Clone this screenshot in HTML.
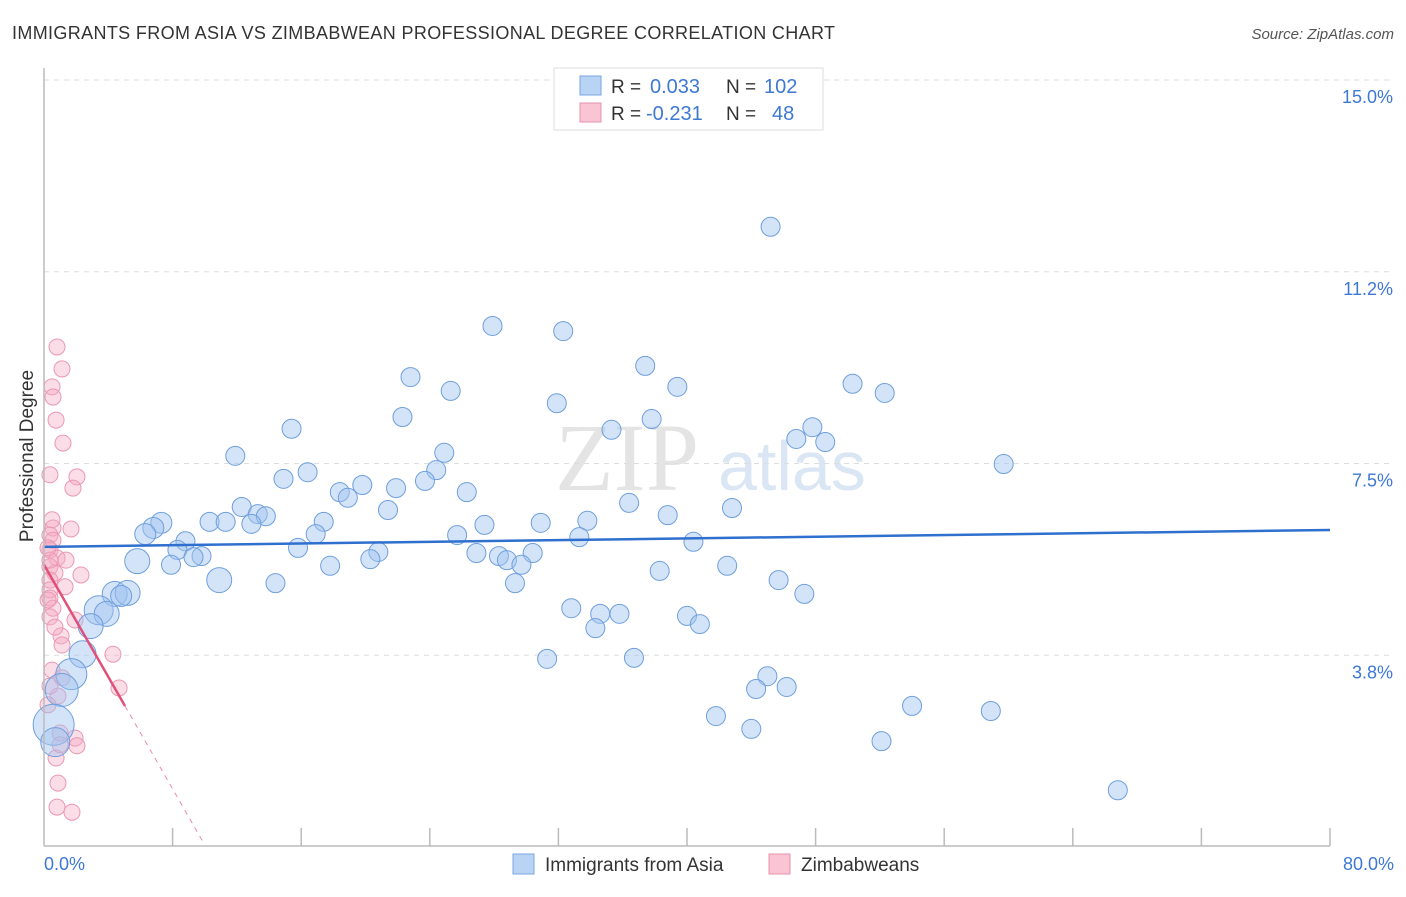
<!DOCTYPE html>
<html><head><meta charset="utf-8"><style>
body{margin:0;background:#fff;font-family:"Liberation Sans",sans-serif;}
</style></head><body>
<svg id="chart" width="1406" height="892" xmlns="http://www.w3.org/2000/svg" font-family="Liberation Sans, sans-serif">
<text x="12" y="39" font-size="18" fill="#333" textLength="823" lengthAdjust="spacing">IMMIGRANTS FROM ASIA VS ZIMBABWEAN PROFESSIONAL DEGREE CORRELATION CHART</text>
<text x="1394" y="39" font-size="15" fill="#555" font-style="italic" text-anchor="end">Source: ZipAtlas.com</text>
<text transform="translate(33,456) rotate(-90)" font-size="19" fill="#333" text-anchor="middle">Professional Degree</text>
<text x="555" y="490" font-size="96" fill="#e4e4e4" font-family="Liberation Serif, serif">ZIP</text>
<text x="718" y="490" font-size="70" fill="#dbe6f5">atlas</text>
<g id="grid"></g>
<g id="pinkPts"></g>
<g id="bluePts"></g>
<g id="trends"></g>
<line x1="44" y1="68" x2="44" y2="846" stroke="#bbb" stroke-width="1.5"/>
<line x1="44" y1="846" x2="1330" y2="846" stroke="#bbb" stroke-width="1.5"/>
<text x="44" y="870" font-size="18" fill="#3d78d4">0.0%</text>
<text x="1394" y="870" font-size="18" fill="#3d78d4" text-anchor="end">80.0%</text>
<g>
<rect x="554" y="68" width="269" height="62" fill="#fff" stroke="#ddd"/>
<rect x="580" y="76" width="21" height="19" fill="#b9d3f5" stroke="#7aa6e0"/>
<rect x="580" y="103" width="21" height="19" fill="#f9c4d4" stroke="#e890aa"/>
<text x="611" y="93" font-size="19" fill="#333">R = </text><text x="650" y="93" font-size="20" fill="#3d78d4">0.033</text>
<text x="726" y="93" font-size="19" fill="#333">N = </text><text x="764" y="93" font-size="20" fill="#3d78d4">102</text>
<text x="611" y="120" font-size="19" fill="#333">R = </text><text x="646" y="120" font-size="20" fill="#3d78d4">-0.231</text>
<text x="726" y="120" font-size="19" fill="#333">N = </text><text x="772" y="120" font-size="20" fill="#3d78d4">48</text>
</g>
<g>
<rect x="513" y="854" width="21" height="20" fill="#b9d3f5" stroke="#7aa6e0"/>
<text x="545" y="871" font-size="19" fill="#333">Immigrants from Asia</text>
<rect x="769" y="854" width="21" height="20" fill="#f9c4d4" stroke="#e890aa"/>
<text x="801" y="871" font-size="19" fill="#333">Zimbabweans</text>
</g>
</svg>
<script>
const yTicks=[15.0,11.2,7.5,3.8];
const yTickVals=[15.0,11.25,7.5,3.75];
const xTicks=[8,16,24,32,40,48,56,64,72,80];
const blueX=[45.2,27.9,32.3,37.4,22.8,25.3,39.4,50.3,52.3,31.9,22.3,37.8,15.4,35.3,47.8,46.8,48.6,24.9,11.9,59.7,24.4,16.4,14.9,23.7,21.9,19.8,18.4,26.3,18.9,36.4,12.3,21.4,42.8,13.3,13.8,38.8,17.4,10.3,11.3,12.9,30.9,33.8,27.4,7.3,6.8,6.3,16.9,25.7,33.3,40.4,8.8,15.8,8.3,20.8,30.4,26.9,28.3,28.8,9.8,9.3,20.3,5.8,29.7,7.9,17.8,42.5,38.3,10.9,14.4,45.7,29.3,4.4,5.2,4.8,47.3,32.8,34.6,35.8,3.4,3.9,40.0,40.8,34.3,2.9,2.4,1.7,31.3,36.7,45.0,44.3,46.2,54.0,58.9,1.1,0.6,41.8,44.0,52.1,0.7,66.8];
const blueY=[12.13,10.19,10.09,9.41,9.19,8.92,9.0,9.06,8.88,8.68,8.41,8.37,8.18,8.16,8.21,7.98,7.92,7.71,7.65,7.49,7.37,7.33,7.2,7.16,7.02,7.08,6.94,6.94,6.83,6.73,6.65,6.59,6.63,6.51,6.47,6.49,6.36,6.36,6.36,6.32,6.34,6.38,6.3,6.34,6.24,6.12,6.12,6.1,6.06,5.97,5.98,5.85,5.81,5.77,5.75,5.75,5.69,5.61,5.69,5.67,5.63,5.59,5.52,5.52,5.5,5.5,5.4,5.22,5.16,5.22,5.16,4.95,4.97,4.91,4.95,4.67,4.56,4.56,4.63,4.56,4.52,4.36,4.28,4.32,3.77,3.38,3.68,3.7,3.34,3.09,3.13,2.76,2.66,3.07,2.39,2.56,2.31,2.07,2.05,1.11];
const blueSize=[9,9,9,9,9,9,9,9,9,9,9,9,9,9,9,9,9,9,9,9,9,9,9,9,9,9,9,9,9,9,9,9,9,9,9,9,9,9,9,9,9,9,9,10,10,10,9,9,9,9,9,9,9,9,9,9,9,9,9,9,9,12,9,9,9,9,9,12,9,9,9,12,12,10,9,9,9,9,14,12,9,9,9,12,13,15,9,9,9,9,9,9,9,16,20,9,9,9,14,9];
const pinkX=[0.81,1.12,0.5,0.56,0.75,1.18,0.37,2.05,1.8,0.56,1.68,0.37,0.56,0.37,0.81,0.37,0.68,0.37,1.31,0.37,0.37,0.56,0.37,2.3,1.06,1.12,4.29,0.5,1.12,0.87,4.67,1.0,1.93,2.05,0.75,0.87,0.81,1.74,0.37,0.25,0.37,1.37,0.5,0.25,0.68,0.25,1.0,1.93];
const pinkY=[9.78,9.35,9.0,8.8,8.35,7.9,7.28,7.24,7.02,6.24,6.22,6.1,6.0,5.81,5.65,5.48,5.36,5.22,5.09,5.03,4.87,4.67,4.5,5.32,4.13,3.95,3.77,3.46,3.31,2.95,3.11,2.23,2.13,1.98,1.74,1.25,0.78,0.68,3.15,4.83,5.61,5.61,6.4,5.85,4.3,2.78,2.0,4.44];
const blueTrend=[5.87,6.2];
const pinkTrend=[5.52,-0.548];
const NS="http://www.w3.org/2000/svg";
const X0=44,X1=1330,Y0=847,PY=51.13;
function sx(v){return X0+(v/80)*(X1-X0);}
function sy(v){return Y0-v*PY;}
function mk(tag,attrs,parent){const e=document.createElementNS(NS,tag);for(const k in attrs)e.setAttribute(k,attrs[k]);parent.appendChild(e);return e;}
const grid=document.getElementById('grid');
yTickVals.forEach((v,i)=>{
 const l=mk('line',{x1:44,x2:1393,y1:sy(v),y2:sy(v),stroke:'#ddd','stroke-dasharray':'5,5'},grid);
 
 
 const t=mk('text',{x:1393,y:sy(v)+23,'font-size':18,fill:'#3d78d4','text-anchor':'end'},grid);
 t.textContent=yTicks[i].toFixed(1)+'%';
 
 
});
xTicks.forEach(v=>{
 const l=mk('line',{x1:sx(v),x2:sx(v),y1:828,y2:846,stroke:'#bbb','stroke-width':1.5},grid);
 
 
});
const pg=document.getElementById('pinkPts');
pinkX.forEach((x,i)=>{
 const c=mk('circle',{cx:sx(x),cy:sy(pinkY[i]),r:8,fill:'rgba(246,170,196,0.4)',stroke:'#ea98b2','stroke-width':1},pg);
 
 
});
const bg=document.getElementById('bluePts');
blueX.forEach((x,i)=>{
 const c=mk('circle',{cx:sx(x),cy:sy(blueY[i]),r:blueSize[i]+0.5,fill:'rgba(160,196,240,0.45)',stroke:'#6f9fdc','stroke-width':1},bg);
 
 
});
const tg=document.getElementById('trends');
const bl=mk('line',{x1:sx(0),y1:sy(blueTrend[0]),x2:sx(80),y2:sy(blueTrend[1]),stroke:'#2f6fce','stroke-width':2.5},tg);


const pf=x=>pinkTrend[0]+pinkTrend[1]*x;
const pl=mk('line',{x1:sx(0),y1:sy(pf(0)),x2:sx(5.04),y2:sy(pf(5.04)),stroke:'#e0507a','stroke-width':2.5},tg);


const pd=mk('line',{x1:sx(5.04),y1:sy(pf(5.04)),x2:sx(9.9),y2:sy(pf(9.9)),stroke:'#eb8aa8','stroke-width':1,'stroke-dasharray':'5,5'},tg);


</script>
</body></html>
